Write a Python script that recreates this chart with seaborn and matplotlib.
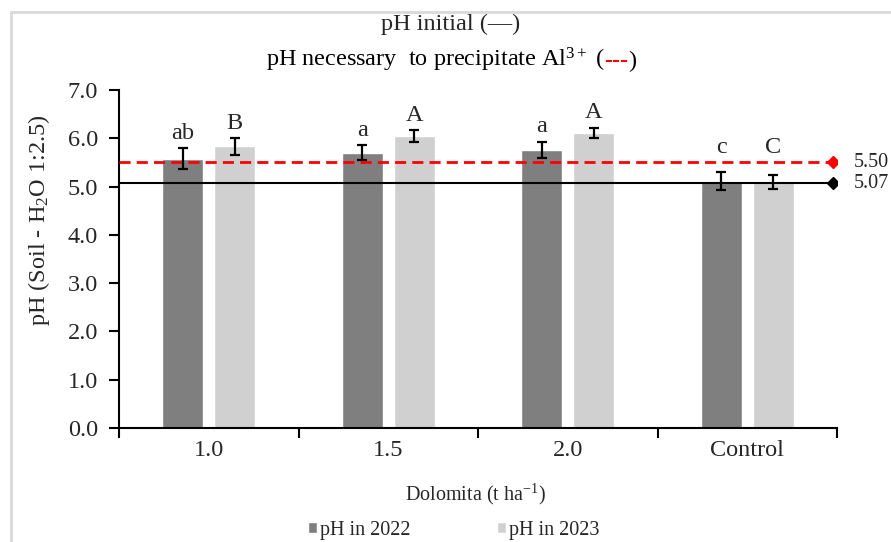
import pandas as pd
import seaborn as sns
import matplotlib.pyplot as plt
from matplotlib.lines import Line2D

# dados
doses = ['1.0', '1.5', '2.0', 'Control']
ph_2022 = [5.58, 5.70, 5.76, 5.11]
ph_2023 = [5.83, 6.05, 6.11, 5.10]
err_2022 = [0.22, 0.16, 0.17, 0.19]
err_2023 = [0.18, 0.12, 0.11, 0.15]
letras_2022 = ['ab', 'a', 'a', 'c']
letras_2023 = ['B', 'A', 'A', 'C']
anos = ['pH in 2022', 'pH in 2023']
ph_inicial = 5.07
ph_al = 5.50

sns.set_style("ticks")
plt.rcParams['font.family'] = ['Liberation Serif', 'DejaVu Serif']
plt.rcParams['mathtext.fontset'] = 'custom'
plt.rcParams['mathtext.rm'] = 'Liberation Serif'
plt.rcParams['mathtext.it'] = 'Liberation Serif:italic'

df = pd.DataFrame({
    'dose': doses * 2,
    'ph': ph_2022 + ph_2023,
    'ano': [anos[0]] * 4 + [anos[1]] * 4,
})

fig = plt.figure(figsize=(8.91, 5.42), dpi=100)
ax = fig.add_axes([119 / 891, 1 - 428 / 542, 718 / 891, 338 / 542])

sns.barplot(data=df, x='dose', y='ph', hue='ano', palette=['#7f7f7f', '#d0d0d0'],
            width=0.58, gap=0.21, errorbar=None, saturation=1, ax=ax)
handles, labels = ax.get_legend_handles_labels()
ax.get_legend().remove()

# linhas de referência
x_fim = 3.478
ax.plot([-0.5, x_fim], [ph_al, ph_al], color='#ff0000', lw=2, ls=(0, (4, 2.2)),
        marker='D', markevery=[1], ms=6.5, zorder=3)
ax.plot([-0.5, x_fim], [ph_inicial, ph_inicial], color='black', lw=1.5,
        marker='D', markevery=[1], ms=6.5, zorder=3)
ax.annotate(f'{ph_al:.2f}', (x_fim, ph_al), xytext=(15, 0), textcoords='offset points',
            va='center', ha='left', fontsize=14.5, annotation_clip=False)
ax.annotate(f'{ph_inicial:.2f}', (x_fim, ph_inicial), xytext=(15, 0), textcoords='offset points',
            va='center', ha='left', fontsize=14.5, annotation_clip=False)

# barras de erro e letras
for cont, vals, errs, letras in zip(ax.containers, [ph_2022, ph_2023], [err_2022, err_2023],
                                    [letras_2022, letras_2023]):
    xs = [p.get_x() + p.get_width() / 2 for p in cont]
    ax.errorbar(xs, vals, yerr=errs, fmt='none', ecolor='black', elinewidth=1.6,
                capsize=3.3, capthick=1.6, zorder=4)
    for x, v, e, l in zip(xs, vals, errs, letras):
        ax.annotate(l, (x, max(v + e, ph_al)), xytext=(0, 3), textcoords='offset points',
                    ha='center', va='bottom', fontsize=17.5)

ax.set_ylim(0, 7)
ax.set_xlim(-0.5, 3.5)
ax.set_yticks(range(8))
ax.set_yticklabels([f'{v:.1f}' for v in range(8)])
ax.set_xticks([i - 0.5 for i in range(5)])
ax.set_xticklabels([])
ax.set_xticks(range(4), minor=True)
ax.set_xticklabels(doses, minor=True)
ax.tick_params(axis='x', which='major', length=7, width=1.5, direction='out', color='black')
ax.tick_params(axis='x', which='minor', length=0, pad=9, labelsize=17.5)
ax.tick_params(axis='y', length=7, width=1.5, direction='out', color='black', pad=8, labelsize=17.5)
for lado in ['top', 'right']:
    ax.spines[lado].set_visible(False)
for lado in ['left', 'bottom']:
    ax.spines[lado].set_color('black')
    ax.spines[lado].set_linewidth(1.5)

ax.set_ylabel('pH (Soil - H$\\mathregular{_2}$O 1:2.5)', fontsize=17.5)
ax.yaxis.set_label_coords(-0.093, 0.615)
ax.set_xlabel('Dolomita (t ha$\\mathregular{^{-1}}$)', fontsize=14.5)
ax.xaxis.set_label_coords(0.496, -0.16)

# título em duas linhas (parte vermelha no meio da segunda)
fig.text(451 / 891, 1 - 24 / 542, 'pH initial (\u2014)', ha='center', va='center', fontsize=17.5)
r = fig.canvas.get_renderer()
y2 = 1 - 67 / 542
partes = [('pH necessary  to precipitate Al$\\mathregular{^{3+}}$ (', 'black', 'normal'),
          ('---', '#ff0000', 'bold'),
          (')', 'black', 'normal')]
textos = [fig.text(0, y2, s, color=c, fontweight=w, va='baseline', ha='left', fontsize=17.5)
          for s, c, w in partes]
larguras = [t.get_window_extent(r).width / fig.bbox.width for t in textos]
x0 = 451 / 891 - sum(larguras) / 2
for t, w in zip(textos, larguras):
    t.set_x(x0)
    x0 += w

fig.legend(handles, labels, loc='center', bbox_to_anchor=(454 / 891, 1 - 530 / 542), ncol=2,
           frameon=False, fontsize=14.5, handlelength=0.45, handleheight=0.45,
           handletextpad=0.15, columnspacing=4.3)

# moldura cinza da captura
fig.add_artist(Line2D([11 / 891, 1], [1 - 12 / 542, 1 - 12 / 542], color='#d9d9d9', lw=2))
fig.add_artist(Line2D([11 / 891, 11 / 891], [0, 1 - 12 / 542], color='#d9d9d9', lw=2))

plt.savefig('out.png', dpi=100)
